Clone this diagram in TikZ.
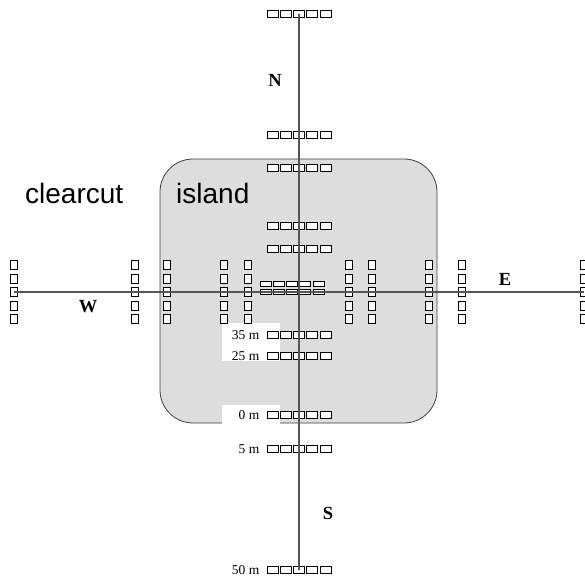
\documentclass[tikz,border=0pt]{standalone}
\usepackage{fontspec}
\setmainfont{Liberation Serif}
\setsansfont{Liberation Sans}
\usetikzlibrary{positioning}
\usepackage{xcolor}
\definecolor{islandgray}{RGB}{221,221,221}
\definecolor{transectgray}{RGB}{85,85,85}
\tikzset{%
	plotbox/.style={
		draw=black,
		fill=white,
		line width=0.8pt,
		inner sep=0pt,
		minimum width=11pt,
		minimum height=7pt
	},
	colbox/.style={plotbox, minimum width=7pt, minimum height=9pt},
	midbox/.style={plotbox, minimum height=5.4pt},
	transect/.style={draw=transectgray, line width=1.6pt},
	island/.style={draw=black!75, fill=islandgray, line width=0.8pt, rounded corners=33pt},
	dirlabel/.style={font=\fontsize{18.5}{18.5}\selectfont\bfseries, inner sep=0pt},
	distlabel/.style={font=\fontsize{13.5}{13.5}\selectfont, inner sep=0pt},
	zonelabel/.style={font=\fontsize{28}{28}\selectfont\sffamily, anchor=base west, inner sep=0pt},
}

\begin{document}
\begin{tikzpicture}[x=1pt, y=-1pt]
			\useasboundingbox (0,0) rectangle (585,579);
			
			% island and the white patches behind the labels
			\path[island] (160,159) rectangle (437,423);
			\fill[white] (222,323) rectangle (280,361);
			\fill[white] (222,405) rectangle (280,424.5);
			
			% plot rows along the N-S transect
			\foreach \name/\y in {n1/14, n2/135, n3/168, n4/226, n5/249, s5/335, s4/356, s3/415, s2/449, s1/570}
				\foreach \i in {1,...,5}
					\node[plotbox] (\name-\i) at ({299+(\i-3)*13.3}, \y) {};
			
			% double row in the middle
			\foreach \name/\y in {c1/284, c2/292}
				\foreach \i in {1,...,5}
					\node[midbox] (\name-\i) at ({292+(\i-3)*13.3}, \y) {};
			
			% plot columns along the W-E transect
			\foreach \name/\x in {w1/14, w2/135, w3/167, w4/224, w5/248, e5/349, e4/372, e3/429, e2/462, e1/584}
				\foreach \i in {1,...,5}
					\node[colbox] (\name-\i) at (\x, {292+(\i-3)*13.4}) {};
			
			% transects
			\draw[transect] (n1-3.center) -- (s1-3.center);
			\draw[transect] (w1-3.center) -- (e1-3.center);
			
			% distances
			\node[distlabel, left=7pt of s5-1] (d35) {35 m};
			\node[distlabel, left=7pt of s4-1] (d25) {25 m};
			\node[distlabel, left=7pt of s3-1] (d0) {0 m};
			\node[distlabel, left=7pt of s2-1] (d5) {5 m};
			\node[distlabel, left=7pt of s1-1] (d50) {50 m};
			
			% directions and zones
			\node[dirlabel] (north) at (275,80) {N};
			\node[dirlabel] (south) at (328,513) {S};
			\node[dirlabel] (west) at (88,307) {W};
			\node[dirlabel] (east) at (505,279) {E};
			\node[zonelabel] (clearcut) at (25,203) {clearcut};
			\node[zonelabel] (islandname) at (176,203) {island};
			
		\end{tikzpicture}
\end{document}
